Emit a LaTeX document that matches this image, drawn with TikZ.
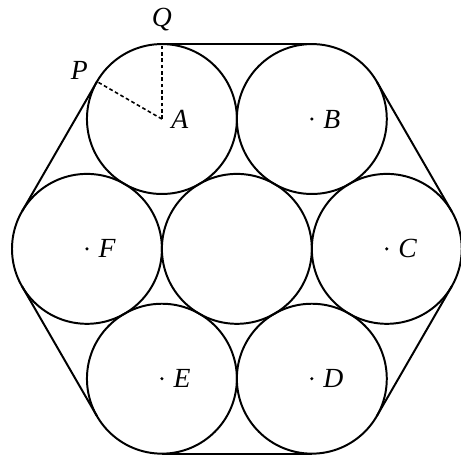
\documentclass[tikz,border=0pt]{standalone}
\usepackage{fontspec}
\setmainfont{Liberation Serif}
\usetikzlibrary{positioning}

\begin{document}
\begin{tikzpicture}[ball/.style={draw, circle, inner sep=0pt, outer sep=0pt, minimum size=2cm, line width=0.75pt},
    belt/.style={line width=0.75pt},
    radius line/.style={line width=0.6pt, dash pattern=on 1.4pt off 1pt},
    ball label/.style={font=\fontsize{10.5}{12}\selectfont\itshape, inner sep=0.5pt}]
    \useasboundingbox (-3.16,-2.80) rectangle (2.99,3.32);

    \node[ball] (O) at (0,0) {};
    \node[ball] (A) at (120:2) {};
    \node[ball] (B) at (60:2) {};
    \node[ball] (C) at (0:2) {};
    \node[ball] (D) at (-60:2) {};
    \node[ball] (E) at (-120:2) {};
    \node[ball] (F) at (180:2) {};

    \draw[belt] (A.90) -- (B.90);
    \draw[belt] (B.30) -- (C.30);
    \draw[belt] (C.-30) -- (D.-30);
    \draw[belt] (D.-90) -- (E.-90);
    \draw[belt] (E.210) -- (F.210);
    \draw[belt] (F.150) -- (A.150);

    \coordinate (P) at (A.150);
    \coordinate (Q) at (A.90);
    \draw[radius line] (A.center) -- (P);
    \draw[radius line] (A.center) -- (Q);
    \node[ball label, above left=0cm and 0.1cm of P] (labelP) {P};
    \node[ball label, above=0.15cm of Q] (labelQ) {Q};
    \node[ball label, right=0.1cm of A.center] (labelA) {A};

    \foreach \n in {B,C,D,E,F} {
        \fill (\n.center) circle (0.65pt);
        \node[ball label, right=0.13cm of \n.center] (label\n) {\n};
    }
\end{tikzpicture}
\end{document}
